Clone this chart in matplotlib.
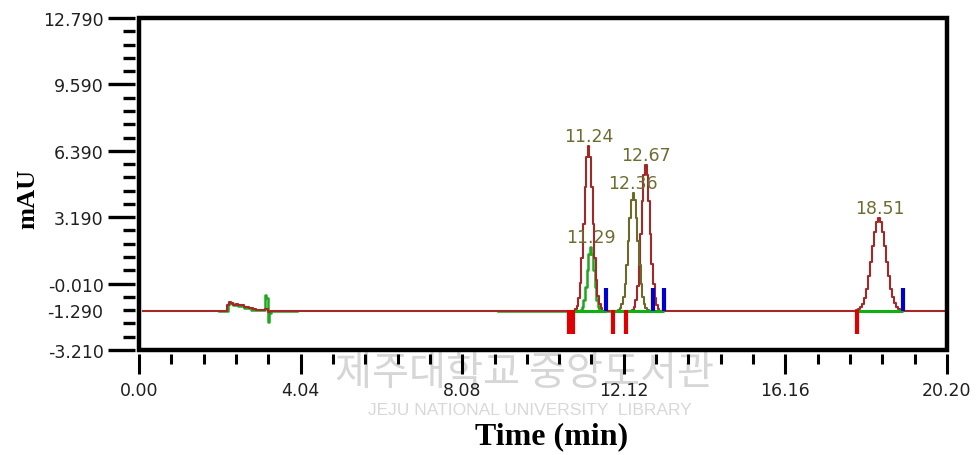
import matplotlib
matplotlib.use('Agg')
import matplotlib.pyplot as plt
from matplotlib.patches import Rectangle
from matplotlib.ticker import FixedLocator, FixedFormatter

# ---------------- data ----------------
nan = float('nan')

# red chromatogram trace: baseline + peaks at 11.24, 12.67, 18.51
red_time = [0.10, 2.18, 2.22, 2.27, 2.32, 2.38, 2.45, 2.52, 2.58, 2.65, 2.72, 2.80, 2.88, 2.95, 3.10, 3.20, 3.25, 3.32, 10.60,
            10.88, 10.92, 10.96, 11.00, 11.04, 11.08, 11.12, 11.16, 11.20, 11.24, 11.28, 11.32, 11.36, 11.40, 11.44, 11.48, 11.52, 11.56, 11.60,
            11.70, 12.20,
            12.31, 12.35, 12.39, 12.43, 12.47, 12.51, 12.55, 12.59, 12.63, 12.67, 12.71, 12.75, 12.79, 12.83, 12.87, 12.91, 12.95, 12.99, 13.03,
            13.10, 17.85,
            17.91, 17.96, 18.01, 18.06, 18.11, 18.16, 18.21, 18.26, 18.31, 18.36, 18.41, 18.46, 18.51, 18.56, 18.61, 18.66, 18.71, 18.76, 18.81,
            18.86, 18.91, 18.96, 19.01, 19.06, 19.11,
            20.15]
red_mau = [-1.32, -1.32, -1.05, -0.92, -0.95, -1.02, -0.98, -1.06, -1.04, -1.13, -1.12, -1.20, -1.22, -1.27, -1.28, -1.25, -1.40, -1.32, -1.32,
           -1.32, -1.25, -1.09, -0.72, 0.01, 1.22, 2.86, 4.66, 6.08, 6.63, 6.08, 4.66, 2.86, 1.22, 0.15, -0.60, -1.00, -1.20, -1.32,
           -1.32, -1.32,
           -1.32, -1.26, -1.12, -0.79, -0.14, 0.92, 2.37, 3.95, 5.21, 5.69, 5.21, 3.95, 2.37, 0.92, -0.05, -0.70, -1.06, -1.24, -1.32,
           -1.32, -1.32,
           -1.32, -1.29, -1.24, -1.15, -0.97, -0.68, -0.25, 0.34, 1.05, 1.80, 2.49, 2.97, 3.14, 2.97, 2.49, 1.80, 1.05, 0.34, -0.25,
           -0.66, -0.95, -1.12, -1.22, -1.28, -1.32,
           -1.32]

# green trace: injection disturbance and peak at 11.29
green_time = [2.00, 2.20, 2.24, 2.30, 2.40, 2.55, 2.70, 2.90, 3.14, 3.17, 3.20, 3.23, 3.27, 3.32, 4.60, nan,
              7.00, 10.95,
              11.01, 11.05, 11.09, 11.13, 11.17, 11.21, 11.25, 11.29, 11.33, 11.37, 11.41, 11.45, 11.49, 11.53, 11.57,
              11.90]
green_mau = [-1.34, -1.34, -1.00, -0.95, -1.05, -1.10, -1.18, -1.27, -1.30, -0.55, -0.70, -1.87, -1.45, -1.34, -1.34, nan,
             -1.34, -1.34,
             -1.34, -1.27, -1.14, -0.80, -0.19, 0.65, 1.44, 1.76, 1.44, 0.65, -0.19, -0.80, -1.14, -1.27, -1.34,
             -1.34]

# olive trace: peak at 12.36
olive_time = [11.80, 11.96, 12.00, 12.04, 12.08, 12.12, 12.16, 12.20, 12.24, 12.28, 12.32, 12.36, 12.40, 12.44, 12.48,
              12.52, 12.56, 12.60, 12.64, 12.68, 12.72, 12.76, 12.90]
olive_mau = [-1.33, -1.33, -1.28, -1.20, -1.01, -0.64, -0.01, 0.90, 2.02, 3.16, 4.02, 4.34, 4.02, 3.16, 2.02,
             0.90, -0.01, -0.64, -1.01, -1.20, -1.28, -1.33, -1.33]

# peak labels
peak_labels = ['11.24', '11.29', '12.36', '12.67', '18.51']
peak_times = [11.24, 11.29, 12.36, 12.67, 18.51]
peak_heights = [6.63, 1.76, 4.34, 5.69, 3.14]

# integration marks
start_marks = [10.74, 10.84, 11.85, 12.17, 17.94]
end_marks = [11.67, 12.84, 13.13, 19.11]
base_starts = [10.74, 11.85, 17.94]
base_ends = [11.67, 13.13, 19.11]
baseline_level = -1.33

# axes ticks
x_major = [0.00, 4.04, 8.08, 12.12, 16.16, 20.20]
x_labels = ['0.00', '4.04', '8.08', '12.12', '16.16', '20.20']
x_minor_step = 0.808
y_major = [12.79, 9.59, 6.39, 3.19, -0.01, -1.29, -3.21]
y_labels = ['12.790', '9.590', '6.390', '3.190', '-0.010', '-1.290', '-3.210']
y_minor_step = 0.64

# ---------------- figure ----------------
W, H = 977, 456
fig = plt.figure(figsize=(W / 100, H / 100), dpi=100)
L, R, T, B = 139, 947, 19, 351
ax = fig.add_axes([L / W, 1 - B / H, (R - L) / W, (B - T) / H])
ax.set_xlim(0, 20.2)
ax.set_ylim(-3.21, 12.79)

# watermark (behind everything)
fig.text(0.537, 0.182, '제주대학교 중앙도서관', fontsize=29, color='#d6d6d6',
         family=['Noto Sans CJK KR', 'DejaVu Sans'], ha='center', va='center', zorder=-5)
fig.text(0.542, 0.099, 'JEJU NATIONAL UNIVERSITY  LIBRARY', fontsize=12.5, color='#d8d8d8',
         family='Liberation Sans', ha='center', va='center', zorder=-5)

tc = '#a52828'
ax.plot(green_time, green_mau, color='#1ea81e', lw=1.8, zorder=2, drawstyle='steps-mid')
ax.plot(red_time, red_mau, color=tc, lw=1.5, zorder=3, drawstyle='steps-mid')
ax.plot(olive_time, olive_mau, color='#6b6a2a', lw=1.5, zorder=3, drawstyle='steps-mid')

for s, e in zip(base_starts, base_ends):
    ax.plot([s, e], [baseline_level, baseline_level], color='#10b010', lw=2.2, zorder=4, solid_capstyle='butt')
for t in start_marks:
    ax.plot([t, t], [baseline_level + 0.05, baseline_level - 1.1], color='#e00000', lw=3, zorder=5, solid_capstyle='butt')
for t in end_marks:
    ax.plot([t, t], [baseline_level, baseline_level + 1.1], color='#0000d0', lw=3, zorder=5, solid_capstyle='butt')

for lab, t, v in zip(peak_labels, peak_times, peak_heights):
    ax.annotate(lab, (t, v), xytext=(0, 3.5), textcoords='offset points', ha='center', va='baseline',
                fontsize=12.5, color='#6e6c30', family='DejaVu Sans', zorder=6)

# frame drawn as rectangle; invisible spines pushed outward so ticks sit apart from frame
for sp in ax.spines.values():
    sp.set_visible(False)
ax.spines['left'].set_position(('outward', 3))
ax.spines['bottom'].set_position(('outward', 3))
ax.add_patch(Rectangle((0, 0), 1, 1, transform=ax.transAxes, fill=False, lw=3.2,
                       edgecolor='black', clip_on=False, zorder=10))

# ticks
ax.xaxis.set_major_locator(FixedLocator(x_major))
ax.xaxis.set_major_formatter(FixedFormatter(x_labels))
xmin = [round(i * x_minor_step, 3) for i in range(26) if i % 5 != 0]
ax.xaxis.set_minor_locator(FixedLocator(xmin))

ax.yaxis.set_major_locator(FixedLocator(y_major))
ax.yaxis.set_major_formatter(FixedFormatter(y_labels))
ymin_all = [round(-3.21 + i * y_minor_step, 2) for i in range(26)]
ymin = [v for v in ymin_all if all(abs(v - m) > 1e-6 for m in y_major)]
ax.yaxis.set_minor_locator(FixedLocator(ymin))

ax.tick_params(axis='x', which='major', direction='out', length=14.5, width=2.2, color='black',
               pad=5, labelsize=12.5, labelcolor='#202020')
ax.tick_params(axis='x', which='minor', direction='out', length=7.5, width=2.2, color='black')
ax.tick_params(axis='y', which='major', direction='out', length=19.5, width=2.4, color='black',
               pad=3, labelsize=12.5, labelcolor='#202020')
ax.tick_params(axis='y', which='minor', direction='out', length=9, width=2.4, color='black')
for lab in ax.get_xticklabels() + ax.get_yticklabels():
    lab.set_family('DejaVu Sans')

# the -1.290 tick is drawn short like the minor ticks
yt = ax.yaxis.get_major_ticks()
yt[5].tick1line.set_markersize(9)

fig.text(28 / W, 1 - 199 / H, 'mAU', rotation=90, fontsize=19, fontweight='bold',
         family='Liberation Serif', ha='center', va='center')
fig.text(552 / W, 1 - 437 / H, 'Time (min)', fontsize=23, fontweight='bold',
         family='Liberation Serif', ha='center', va='center')

fig.savefig('out.png', dpi=100)
